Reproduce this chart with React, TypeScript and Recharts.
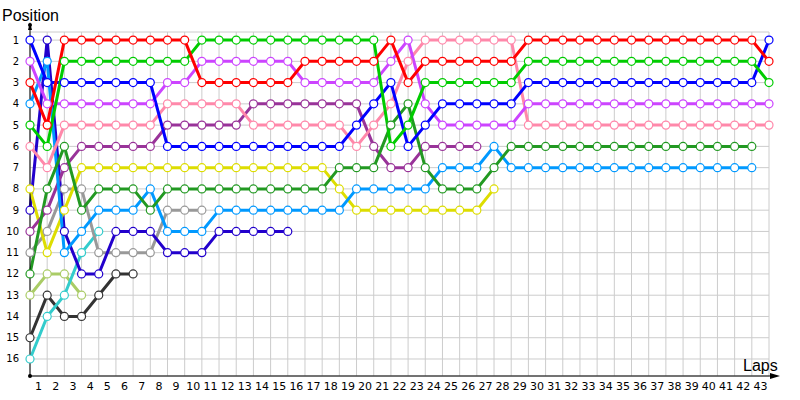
import React from 'react';
import { LineChart, Line, XAxis, YAxis, CartesianGrid, Customized } from 'recharts';

// Lap numbers 0..43 (0 = grid position)
const laps: number[] = [];
for (let i = 0; i <= 43; i++) laps.push(i);

const xTicks: number[] = laps.slice(1);
const yTicks: number[] = [1, 2, 3, 4, 5, 6, 7, 8, 9, 10, 11, 12, 13, 14, 15, 16];

// Positions per lap for each driver (index = lap)
const red = [3, 5, 1, 1, 1, 1, 1, 1, 1, 1, 3, 3, 3, 3, 3, 3, 2, 2, 2, 2, 2, 1, 3, 2, 2, 2, 2, 2, 2, 1, 1, 1, 1, 1, 1, 1, 1, 1, 1, 1, 1, 1, 1, 2];
const green = [5, 6, 2, 2, 2, 2, 2, 2, 2, 2, 1, 1, 1, 1, 1, 1, 1, 1, 1, 1, 1, 6, 5, 3, 3, 3, 3, 3, 3, 2, 2, 2, 2, 2, 2, 2, 2, 2, 2, 2, 2, 2, 2, 3];
const blue = [1, 3, 3, 3, 3, 3, 3, 3, 6, 6, 6, 6, 6, 6, 6, 6, 6, 6, 6, 5, 4, 3, 6, 5, 4, 4, 4, 4, 4, 3, 3, 3, 3, 3, 3, 3, 3, 3, 3, 3, 3, 3, 3, 1];
const violet = [2, 4, 4, 4, 4, 4, 4, 4, 3, 3, 2, 2, 2, 2, 2, 2, 3, 3, 3, 3, 3, 2, 1, 4, 5, 5, 5, 5, 5, 4, 4, 4, 4, 4, 4, 4, 4, 4, 4, 4, 4, 4, 4, 4];
const pink = [6, 7, 5, 5, 5, 5, 5, 5, 4, 4, 4, 4, 4, 5, 5, 5, 5, 5, 5, 6, 5, 4, 2, 1, 1, 1, 1, 1, 1, 5, 5, 5, 5, 5, 5, 5, 5, 5, 5, 5, 5, 5, 5, 5];
const darkGreen = [12, 8, 6, 9, 8, 8, 8, 9, 8, 8, 8, 8, 8, 8, 8, 8, 8, 8, 7, 7, 7, 5, 4, 7, 8, 8, 8, 7, 6, 6, 6, 6, 6, 6, 6, 6, 6, 6, 6, 6, 6, 6, 6];
const lightBlue = [4, 2, 11, 10, 9, 9, 9, 8, 10, 10, 10, 9, 9, 9, 9, 9, 9, 9, 9, 8, 8, 8, 8, 8, 7, 7, 7, 6, 7, 7, 7, 7, 7, 7, 7, 7, 7, 7, 7, 7, 7, 7, 7];
const plum = [10, 9, 7, 6, 6, 6, 6, 6, 5, 5, 5, 5, 5, 4, 4, 4, 4, 4, 4, 4, 6, 7, 7, 6, 6, 6, 6];
const yellow = [8, 11, 9, 7, 7, 7, 7, 7, 7, 7, 7, 7, 7, 7, 7, 7, 7, 7, 8, 9, 9, 9, 9, 9, 9, 9, 9, 8];
const navy = [9, 1, 10, 12, 12, 10, 10, 10, 11, 11, 11, 10, 10, 10, 10, 10];
const gray = [11, 10, 8, 8, 11, 11, 11, 11, 9, 9, 9];
const turquoise = [16, 14, 13, 11, 10];
const lightGreen = [13, 12, 12, 13];
const darkGray = [15, 13, 14, 14, 13, 12, 12];

const series = [
  { key: 'darkGray', values: darkGray, color: '#333333' },
  { key: 'lightGreen', values: lightGreen, color: '#aacc66' },
  { key: 'turquoise', values: turquoise, color: '#33cccc' },
  { key: 'gray', values: gray, color: '#999999' },
  { key: 'navy', values: navy, color: '#2200cc' },
  { key: 'yellow', values: yellow, color: '#dddd00' },
  { key: 'plum', values: plum, color: '#993399' },
  { key: 'lightBlue', values: lightBlue, color: '#0099ff' },
  { key: 'darkGreen', values: darkGreen, color: '#229922' },
  { key: 'pink', values: pink, color: '#ff88aa' },
  { key: 'violet', values: violet, color: '#cc44ff' },
  { key: 'blue', values: blue, color: '#0000ff' },
  { key: 'green', values: green, color: '#00cc00' },
  { key: 'red', values: red, color: '#ff0000' },
];

const data = laps.map((lap) => {
  const row: Record<string, number | undefined> = { lap };
  series.forEach((s) => {
    row[s.key] = s.values[lap];
  });
  return row;
});

const FONT = '"DejaVu Sans", Verdana, sans-serif';
const TITLE_FONT = '"Liberation Sans", Arial, sans-serif';

const LeftTick = (props: any) => (
  <text x={19} y={props.y} dy="0.35em" textAnchor="end" fontSize={10} fontFamily={FONT} fill="#000">
    {props.payload.value}
  </text>
);

const RightTick = (props: any) => (
  <text x={778} y={props.y} dy="0.35em" textAnchor="start" fontSize={10} fontFamily={FONT} fill="#000">
    {props.payload.value}
  </text>
);

const Decor = () => (
  <g>
    <line x1={30} y1={24} x2={30} y2={32} stroke="#000" strokeWidth={1} />
    <polygon points="28,30 30,22 32,30" fill="#000" />
    <circle cx={30} cy={25} r={2} fill="#000" />
    <circle cx={30} cy={376} r={2} fill="#000" />
    <line x1={769} y1={376} x2={774} y2={376} stroke="#000" strokeWidth={1} />
    <polygon points="770,373 780,376 770,379" fill="#000" />
    <text x={2} y={21} fontSize={16} fontFamily={TITLE_FONT} fill="#000">Position</text>
    <text x={743} y={371} fontSize={16} fontFamily={TITLE_FONT} fill="#000">Laps</text>
  </g>
);

export default function App() {
  return (
    <div style={{ position: 'absolute', left: 0, top: 0, width: 800, height: 400, background: '#fff' }}>
      <LineChart width={800} height={400} data={data} margin={{ top: 32, right: 0, bottom: 0, left: 0 }}>
        <CartesianGrid stroke="#cccccc" strokeWidth={1} yAxisId="left" />
        <XAxis
          dataKey="lap"
          type="number"
          domain={[0, 43]}
          ticks={xTicks}
          interval={0}
          height={24}
          tickLine={false}
          tickSize={0}
          tickMargin={6}
          axisLine={{ stroke: '#000', strokeWidth: 1 }}
          tick={{ dx: -8.6, fontSize: 11, fill: '#000', fontFamily: FONT }}
        />
        <YAxis
          yAxisId="left"
          type="number"
          domain={[0.62, 16.8]}
          reversed
          ticks={yTicks}
          interval={0}
          width={30}
          tickLine={false}
          axisLine={{ stroke: '#000', strokeWidth: 1 }}
          tick={<LeftTick />}
        />
        <YAxis
          yAxisId="right"
          orientation="right"
          type="number"
          domain={[0.62, 16.8]}
          reversed
          ticks={yTicks}
          interval={0}
          width={31}
          tickLine={false}
          axisLine={false}
          tick={<RightTick />}
        />
        {series.map((s) => (
          <Line
            key={s.key}
            yAxisId="left"
            type="linear"
            dataKey={s.key}
            stroke={s.color}
            strokeWidth={3}
            dot={{ r: 4, fill: '#fff', stroke: s.color, strokeWidth: 1.2 }}
            activeDot={false}
            isAnimationActive={false}
            connectNulls={false}
          />
        ))}
        <Customized component={Decor} />
      </LineChart>
    </div>
  );
}
